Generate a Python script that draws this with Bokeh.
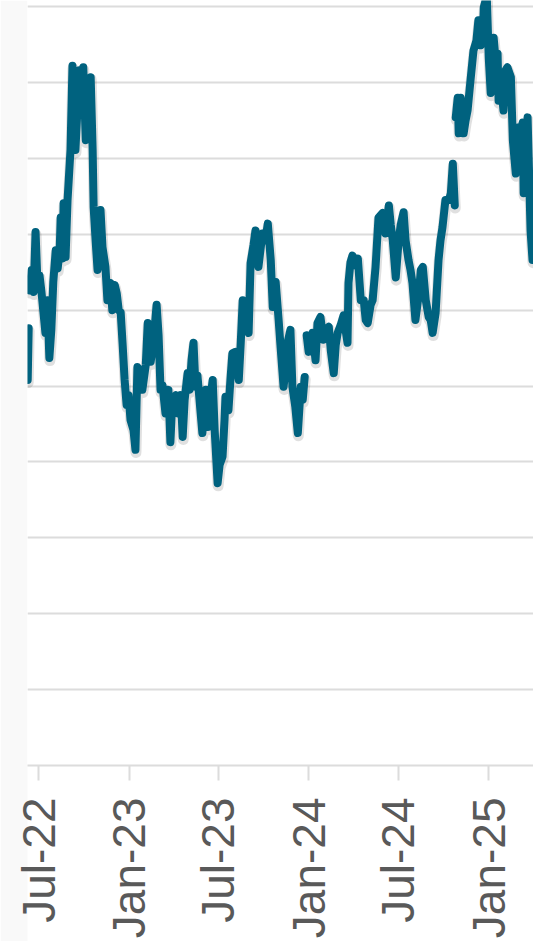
import math
import numpy as np
import pandas as pd
from bokeh.plotting import figure
from bokeh.models import Range1d, FixedTicker, DatetimeTickFormatter, ColumnDataSource
from bokeh.embed import file_html
from bokeh.resources import INLINE

nan = float("nan")

# ---- data ----
start_date = "2022-07-01"
day_offset = [
    -22, -20, -19, -18, -14, -10, -6, -2, 2, 6, 10, 14, 18, 22, 26, 30, 35, 39, 43, 45,
    49, 51, 55, 59, 65, 69, 73, 75, 79, 83, 87, 91, 96, 100, 106, 110, 112, 116, 120, 124,
    126, 130, 136, 140, 146, 150, 155, 159, 163, 167, 171, 175, 179, 183, 187, 193, 197, 201, 207, 211,
    218, 222, 226, 228, 234, 240, 244, 248, 252, 258, 262, 264, 268, 272, 279, 283, 289, 293, 297, 303,
    307, 311, 315, 319, 323, 329, 333, 340, 344, 350, 354, 358, 364, 368, 374, 378, 380, 386, 390, 394,
    400, 407, 411, 415, 417, 423, 427, 431, 437, 441, 447, 451, 455, 461, 466, 472, 476, 482, 488, 492,
    498, 502, 506, 512, 516, 522, 527, 533, 537, 541, 542, 545, 549, 553, 557, 563, 567, 573, 579, 583,
    590, 594, 600, 604, 608, 614, 620, 624, 628, 630, 634, 638, 644, 649, 655, 661, 665, 669, 675, 679,
    685, 691, 699, 705, 712, 716, 720, 726, 732, 736, 742, 746, 752, 756, 760, 766, 773, 777, 781, 787,
    793, 797, 801, 807, 813, 817, 821, 827, 834, 838, 842, 846, 847, 848, 852, 854, 858, 864, 868, 872,
    878, 884, 890, 894, 899, 903, 905, 911, 915, 919, 925, 929, 933, 935, 939, 945, 949, 953, 960, 964,
    970, 976, 980, 984, 986, 990, 994, 1000, 1004,
]
series_value = [
    50.8, 57.6, nan, 62.6, 65.3, 62.4, 70.3, 63.3, 64.6, 62.4, 59.7, 57.0, 61.3, 53.7, 57.4, 63.7, 67.9, 65.5, 67.9, 72.2,
    66.8, 74.1, 67.0, 74.5, 81.1, 92.2, 87.6, 81.1, 86.3, 91.6, 87.6, 92.0, 82.4, 87.6, 90.7, 81.1, 73.6, 69.2, 65.3, 70.5,
    73.2, 68.3, 65.7, 61.3, 63.6, 60.0, 63.3, 62.2, 60.0, 59.7, 55.4, 50.8, 47.5, 48.8, 45.5, 44.2, 41.6, 52.5, 51.8, 49.5,
    52.8, 58.3, 55.4, 53.2, 56.1, 60.7, 56.7, 49.5, 50.1, 46.4, 48.8, 49.5, 42.6, 48.2, 48.8, 46.4, 48.8, 43.3, 48.2, 51.7,
    49.5, 53.4, 55.7, 49.9, 51.4, 46.8, 43.8, 49.5, 44.6, 48.8, 50.8, 44.2, 37.2, 39.6, 40.7, 45.5, 48.6, 46.8, 50.8, 54.3,
    54.5, 50.8, 55.7, 61.3, 58.9, 58.0, 57.0, 66.2, 68.6, 70.5, 65.7, 67.9, 70.1, 69.2, 71.4, 66.6, 60.4, 63.7, 58.7, 55.1,
    49.9, 52.1, 55.7, 57.4, 49.9, 47.2, 43.8, 49.9, 48.2, 51.2, nan, 56.7, 54.5, 55.4, 57.0, 53.4, 58.3, 59.1, 56.1, 57.4,
    57.8, 54.7, 51.7, 55.4, 57.0, 58.0, 59.3, 57.4, 55.7, 63.6, 66.3, 67.2, 65.9, 66.8, 61.3, 61.3, 58.7, 58.3, 60.7, 61.3,
    65.7, 72.2, 72.8, 70.1, 73.8, 71.2, 69.2, 64.3, 69.2, 71.2, 72.9, 69.2, 66.6, 65.3, 63.6, 58.7, 62.2, 65.3, 65.7, 61.3,
    59.1, 58.7, 57.0, 59.6, 66.6, 69.2, 70.9, 74.5, 74.5, 75.4, 79.3, 73.8, nan, 85.4, 88.0, 83.3, 88.0, 83.3, 85.0, 86.3,
    90.3, 94.2, 95.5, 98.2, 94.9, 96.4, 99.9, 101.4, 93.3, 88.6, 95.9, 92.9, 93.8, 87.6, 90.3, 86.3, 91.6, 92.0, 90.7, 82.4,
    78.0, 84.1, 83.7, 84.7, 75.4, 81.1, 85.4, 70.5, 66.6,
]
tick_dates = ["2022-07-01", "2023-01-01", "2023-07-01", "2024-01-01", "2024-07-01", "2025-01-01"]
tick_labels = ["Jul-22", "Jan-23", "Jul-23", "Jan-24", "Jul-24", "Jan-25"]
grid_values = [0, 10, 20, 30, 40, 50, 60, 70, 80, 90, 100]
view_days = [-22.4, 1006]
view_values = [0, 100.8]

# ---- build ----
base = pd.Timestamp(start_date)
dates = [base + pd.Timedelta(days=d) for d in day_offset]
src = ColumnDataSource(dict(x=dates, y=series_value))
shadow_src = ColumnDataSource(dict(
    x=[d + pd.Timedelta(days=1) for d in dates],
    y=[v - 0.35 for v in series_value],
))

p = figure(
    width=533, height=941,
    x_axis_type="datetime",
    x_range=Range1d(base + pd.Timedelta(days=view_days[0]), base + pd.Timedelta(days=view_days[1])),
    y_range=Range1d(view_values[0], view_values[1]),
    output_backend="svg", toolbar_location=None,
    min_border_left=27, min_border_right=0, min_border_top=0, min_border_bottom=175,
    border_fill_color="#f9f9f9", background_fill_color="white",
    outline_line_color=None,
)

p.line("x", "y", source=shadow_src, line_color="black", line_alpha=0.12, line_width=11,
       line_join="round", line_cap="round")
p.line("x", "y", source=src, line_color="#00627f", line_width=8,
       line_join="round", line_cap="round")

p.yaxis.visible = False
p.xgrid.visible = False
p.ygrid.ticker = FixedTicker(ticks=grid_values)
p.ygrid.grid_line_color = "#dcdcdc"
p.ygrid.grid_line_width = 2

tick_ms = [pd.Timestamp(d).value / 1e6 for d in tick_dates]
ax = p.xaxis[0]
ax.ticker = FixedTicker(ticks=tick_ms)
fmt = "%b-%y"
ax.formatter = DatetimeTickFormatter(
    milliseconds=fmt, seconds=fmt, minsec=fmt, minutes=fmt, hourmin=fmt, hours=fmt,
    days=fmt, months=fmt, years=fmt,
)
ax.major_label_overrides = {t: lab for t, lab in zip(tick_ms, tick_labels)}
ax.background_fill_color = "white"
ax.axis_line_color = "#dcdcdc"
ax.axis_line_width = 2
ax.major_tick_line_color = "#dcdcdc"
ax.major_tick_line_width = 2
ax.major_tick_out = 15
ax.major_tick_in = 0
ax.minor_tick_line_color = None
ax.major_label_orientation = math.pi / 2
ax.major_label_standoff = 17
ax.major_label_text_font = "Liberation Sans"
ax.major_label_text_font_size = "46px"
ax.major_label_text_color = "#595959"

open("out.html", "w").write(file_html(p, INLINE))
